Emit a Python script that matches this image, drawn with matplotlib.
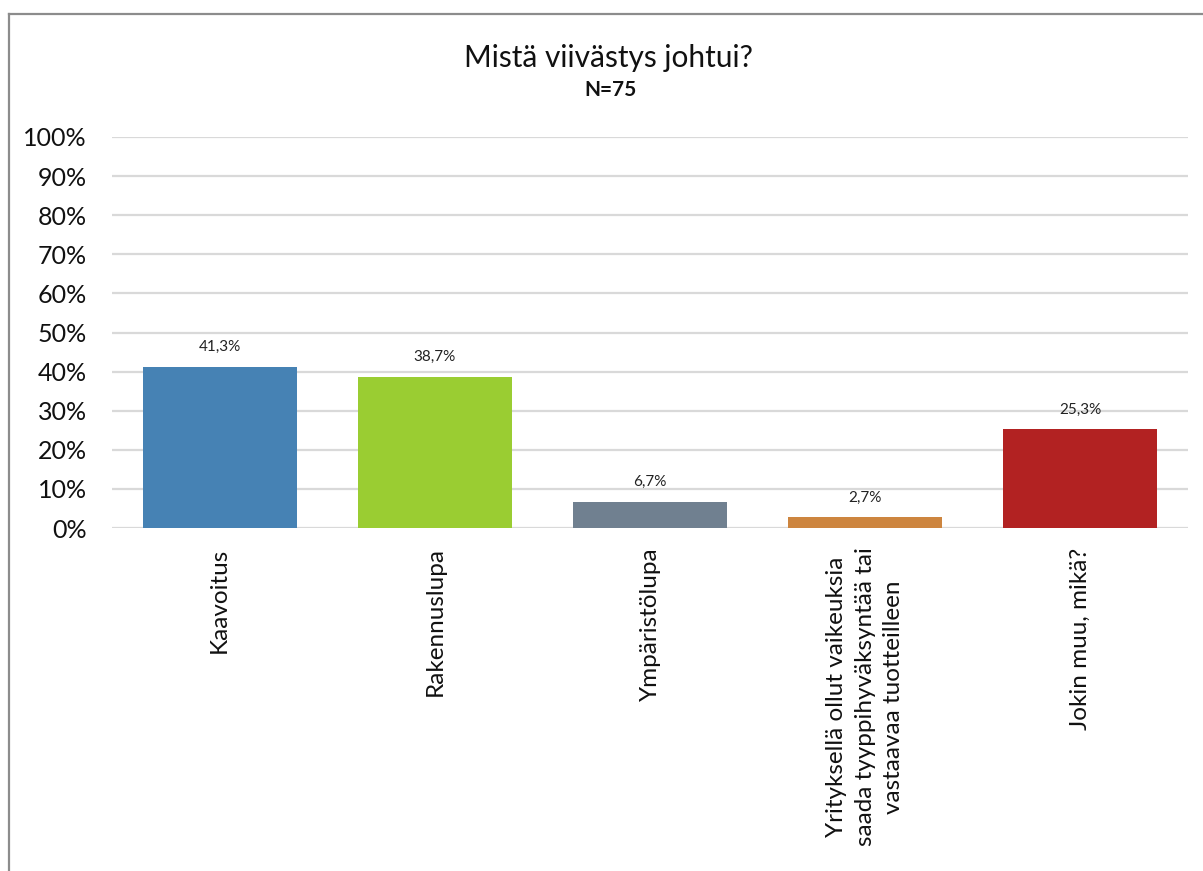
#!/usr/bin/env python3
"""Bar chart: Mistä viivästys johtui? (N=75)."""

import matplotlib

matplotlib.use("Agg")
import matplotlib.pyplot as plt
from matplotlib.lines import Line2D
import numpy as np

plt.rcParams["font.family"] = ["Lato", "DejaVu Sans"]

# DATA
CATEGORIES = [
    "Kaavoitus",
    "Rakennuslupa",
    "Ympäristölupa",
    "Yrityksellä ollut vaikeuksia\nsaada tyyppihyväksyntää tai\nvastaavaa tuotteilleen",
    "Jokin muu, mikä?",
]
VALUES = [41.3, 38.7, 6.7, 2.7, 25.3]
Y_TICKS = [0, 10, 20, 30, 40, 50, 60, 70, 80, 90, 100]

TITLE = "Mistä viivästys johtui?"
SUBTITLE = "N=75"

COLORS = ["#4682B4", "#9ACD32", "#708090", "#CD853F", "#B22222"]
GRID_COLOR = "#D9D9D9"
FRAME_COLOR = "#8C8C8C"

W, H = 1203, 871


def main() -> None:
    fig = plt.figure(figsize=(W / 100, H / 100), dpi=100)
    ax = fig.add_axes([112 / W, 1 - 528 / H, (1188 - 112) / W, (528 - 137) / H])

    x = np.arange(len(CATEGORIES))
    bars = ax.bar(x, VALUES, width=0.716, color=COLORS, zorder=3)

    for bar, v in zip(bars, VALUES):
        ax.annotate(
            f"{v:.1f}%".replace(".", ","),
            (bar.get_x() + bar.get_width() / 2, v),
            xytext=(0, 14),
            textcoords="offset points",
            ha="center",
            va="center",
            fontsize=11,
            color="#222222",
        )

    ax.set_xlim(-0.5, len(CATEGORIES) - 0.5)
    ax.set_ylim(0, 100)
    ax.set_yticks(Y_TICKS)
    ax.set_yticklabels([f"{t}%" for t in Y_TICKS], fontsize=18)
    ax.set_xticks(x)
    ax.set_xticklabels(CATEGORIES, rotation=90, fontsize=17.5, ha="center", va="top",
                       multialignment="center", linespacing=1.45)
    ax.tick_params(axis="both", length=0, colors="#111111")
    ax.tick_params(axis="y", pad=18)
    ax.tick_params(axis="x", pad=14)

    ax.grid(axis="y", color=GRID_COLOR, linewidth=1.6, zorder=0)
    for side in ("top", "right", "left", "bottom"):
        ax.spines[side].set_visible(False)

    fig.text(609 / W, 1 - 58 / H, TITLE, ha="center", va="center", fontsize=21.5, color="#111111")
    fig.text(611 / W, 1 - 90 / H, SUBTITLE, ha="center", va="center", fontsize=15,
             fontweight="bold", color="#111111")

    # outer chart frame (cut at right and bottom)
    fig.add_artist(Line2D([8.5 / W, 1.0], [1 - 14 / H, 1 - 14 / H], transform=fig.transFigure,
                          color=FRAME_COLOR, linewidth=1.6))
    fig.add_artist(Line2D([8.5 / W, 8.5 / W], [1 - 14 / H, 0.0], transform=fig.transFigure,
                          color=FRAME_COLOR, linewidth=1.6))

    fig.savefig("out.png", dpi=100)
    plt.close(fig)


if __name__ == "__main__":
    main()
